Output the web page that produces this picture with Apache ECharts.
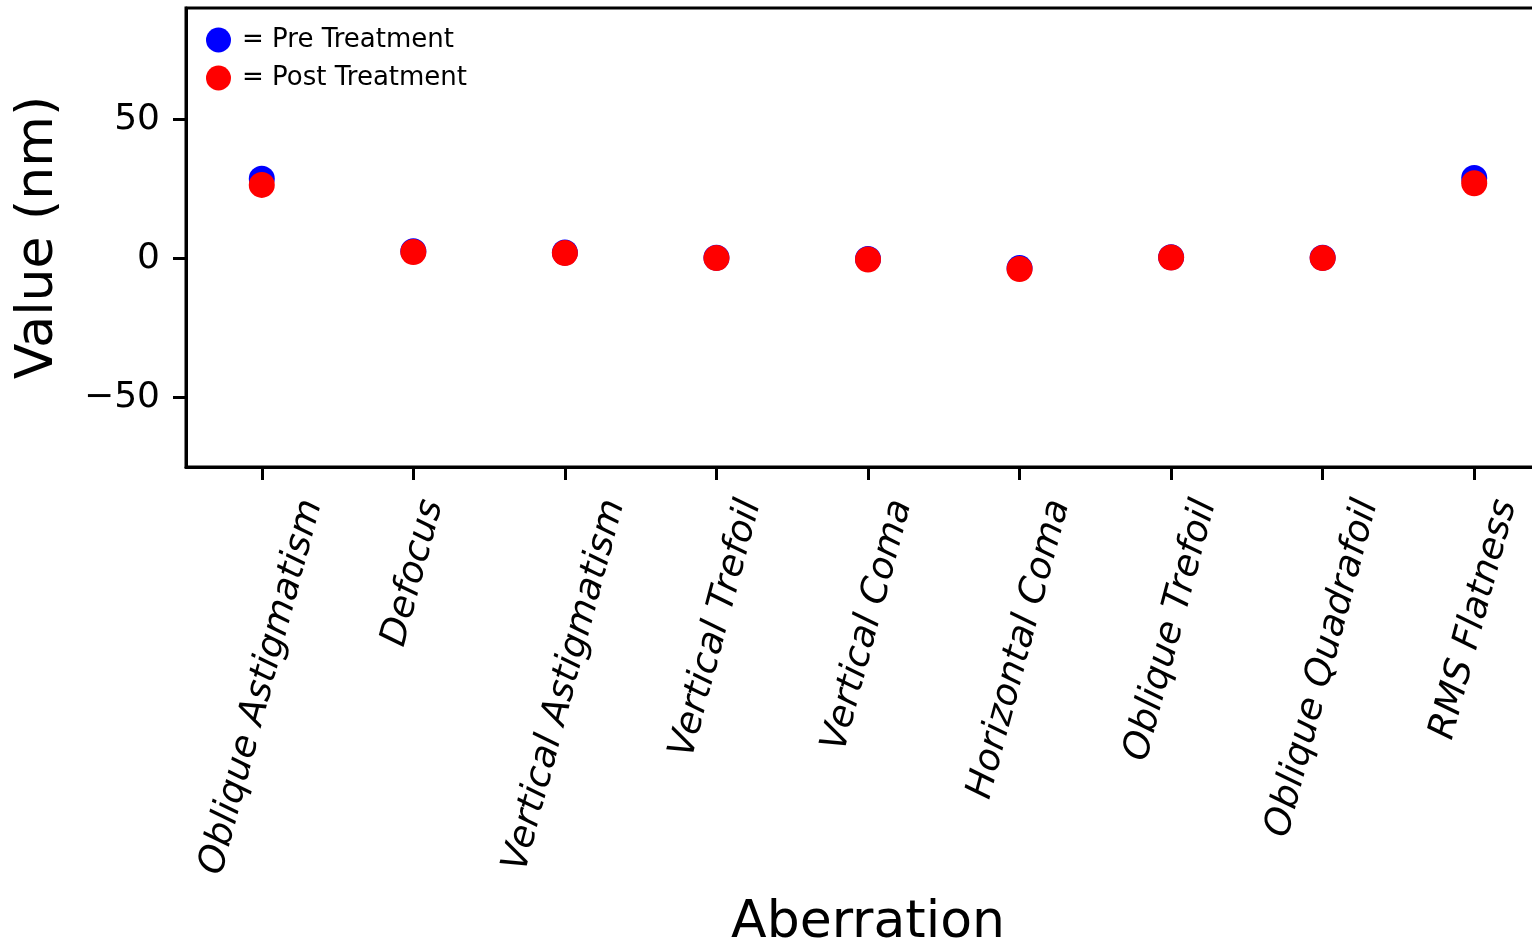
<!DOCTYPE html>
<html>
<head>
<meta charset="utf-8">
<script src="https://cdn.jsdelivr.net/npm/echarts@6/dist/echarts.min.js"></script>
<style>
  html, body { margin: 0; padding: 0; background: #fff; }
  #chart { width: 1532px; height: 944px; }
</style>
</head>
<body>
<div id="chart"></div>
<script>
// Zernike aberration terms and RMS flatness, before and after treatment (nm)
const aberrations = [
  'Oblique Astigmatism', 'Defocus', 'Vertical Astigmatism', 'Vertical Trefoil',
  'Vertical Coma', 'Horizontal Coma', 'Oblique Trefoil', 'Oblique Quadrafoil', 'RMS Flatness'
];
const preTreatment  = [28.6, 2.6, 2.1, 0.2, -0.2, -3.5, 0.4, 0.2, 28.9];
const postTreatment = [26.4, 2.3, 1.9, 0.1, -0.4, -3.8, 0.3, 0.1, 27.0];
const yTicks = [-50, 0, 50];

const FONT = '"DejaVu Sans", sans-serif';
const LABEL_SIZE = 37;
const LABEL_ROTATE = 75;

// Rotated category labels: each label's rotated bounding box is centred under
// its tick, with the top of the box at a fixed distance below the axis.
// The offset is obtained through per-label rich-text padding.
const measureCtx = document.createElement('canvas').getContext('2d');
measureCtx.font = 'italic ' + LABEL_SIZE + 'px "DejaVu Sans"';
const rad = LABEL_ROTATE * Math.PI / 180;
const boxH = LABEL_SIZE * 1.164;
const labelRich = {};
aberrations.forEach(function (name, i) {
  const len = measureCtx.measureText(name).width;
  const vExt = len * Math.sin(rad) + boxH * Math.cos(rad);
  labelRich['c' + i] = {
    fontFamily: FONT,
    fontSize: LABEL_SIZE,
    fontStyle: 'italic',
    color: '#000',
    padding: [vExt * Math.cos(rad), vExt * Math.sin(rad), 0, 0]
  };
});

const axisLineStyle = { color: '#000', width: 3 };

const chart = echarts.init(document.getElementById('chart'), null, { renderer: 'canvas' });
chart.setOption({
  animation: false,
  backgroundColor: '#fff',
  grid: {
    left: 186, top: 8, width: 1364, height: 459,
    show: true, borderColor: '#000', borderWidth: 3,
    containLabel: false, outerBoundsMode: 'none'
  },
  legend: {
    orient: 'vertical',
    left: 201, top: 22,
    itemWidth: 25, itemHeight: 25, itemGap: 12,
    icon: 'circle',
    formatter: '= {name}',
    textStyle: { fontFamily: FONT, fontSize: 26, color: '#000', padding: [0, 0, 0, 6] },
    data: ['Pre Treatment', 'Post Treatment']
  },
  xAxis: {
    type: 'category',
    data: aberrations,
    boundaryGap: true,
    axisLine: { show: true, onZero: false, lineStyle: axisLineStyle },
    axisTick: { show: true, alignWithLabel: true, length: 13, lineStyle: axisLineStyle },
    axisLabel: {
      interval: 0,
      rotate: LABEL_ROTATE,
      margin: 28,
      align: 'center',
      verticalAlign: 'middle',
      hideOverlap: false,
      formatter: function (value, index) { return '{c' + index + '|' + value + '}'; },
      rich: labelRich
    },
    splitLine: { show: false },
    name: 'Aberration',
    nameLocation: 'middle',
    nameGap: 430,
    nameMoveOverlap: false,
    nameTextStyle: { fontFamily: FONT, fontSize: 52, color: '#000', verticalAlign: 'top' }
  },
  yAxis: {
    type: 'value',
    min: -75, max: 90,
    axisLine: { show: true, onZero: false, lineStyle: axisLineStyle },
    axisTick: { show: true, length: 13, lineStyle: axisLineStyle, customValues: yTicks },
    axisLabel: {
      customValues: yTicks,
      margin: 26,
      fontFamily: FONT, fontSize: 36, color: '#000',
      formatter: function (v) { return v < 0 ? '\u2212' + Math.abs(v) : String(v); }
    },
    splitLine: { show: false },
    name: 'Value (nm)',
    nameLocation: 'middle',
    nameRotate: 90,
    nameGap: 122,
    nameMoveOverlap: false,
    nameTextStyle: { fontFamily: FONT, fontSize: 52, color: '#000' }
  },
  series: [
    {
      name: 'Pre Treatment', type: 'scatter', data: preTreatment,
      symbol: 'circle', symbolSize: 26,
      itemStyle: { color: '#0000ff', opacity: 1 },
      emphasis: { disabled: true }
    },
    {
      name: 'Post Treatment', type: 'scatter', data: postTreatment,
      symbol: 'circle', symbolSize: 26,
      itemStyle: { color: '#ff0000', opacity: 1 },
      emphasis: { disabled: true }
    }
  ]
});
</script>
</body>
</html>
